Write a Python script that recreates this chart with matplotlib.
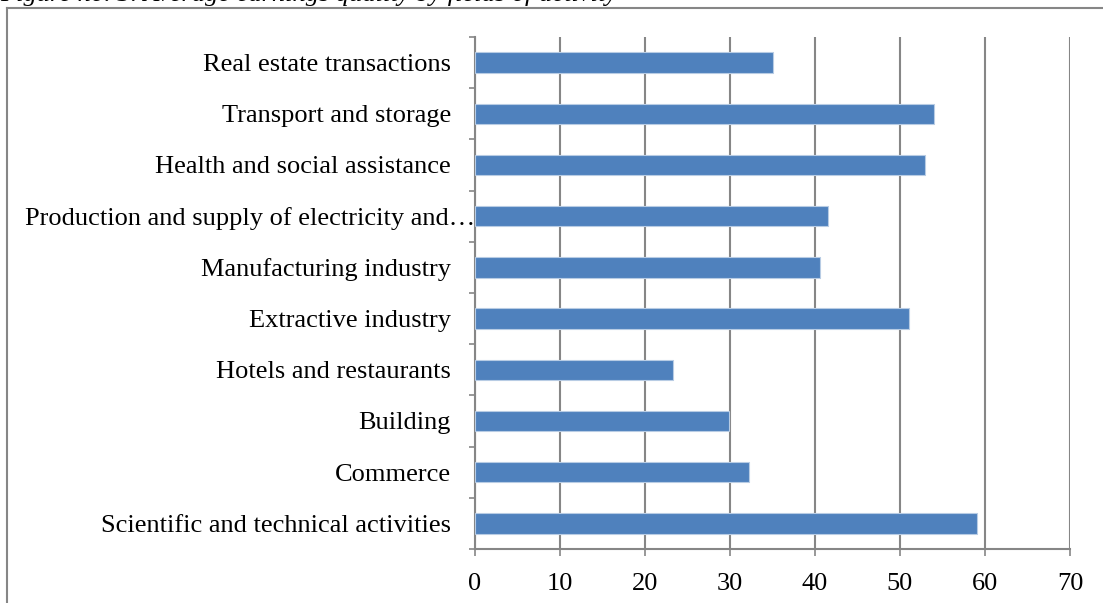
import matplotlib
matplotlib.use("Agg")
import matplotlib.pyplot as plt
import matplotlib.transforms as mtransforms
from matplotlib.lines import Line2D
import numpy as np

# ---------------------------------
# DATA (bottom to top, as drawn)
# ---------------------------------
categories = [
    "Scientific and technical activities",
    "Commerce",
    "Building",
    "Hotels and restaurants",
    "Extractive industry",
    "Manufacturing industry",
    "Production and supply of electricity and\u2026",
    "Health and social assistance",
    "Transport and storage",
    "Real estate transactions",
]
values = [59.1, 32.2, 29.9, 23.3, 51.1, 40.6, 41.5, 52.9, 54.0, 35.0]
x_ticks = [0, 10, 20, 30, 40, 50, 60, 70]
caption = "Figure no. 3. Average earnings quality by fields of activity"

BAR = "#4F81BD"
GREY = "#868686"

plt.rcParams["font.family"] = ["Liberation Serif", "DejaVu Serif"]

fig = plt.figure(figsize=(11.03, 6.03), dpi=100)
W, H = 1103, 603
ax = fig.add_axes([475 / W, 1 - 549 / H, (1070 - 475) / W, (549 - 37) / H])

y = np.arange(len(categories))
ax.barh(y, values, height=0.4, color=BAR, edgecolor="#b8cce4", linewidth=0.8, zorder=3)

ax.set_xlim(0, 70)
ax.set_ylim(-0.5, len(categories) - 0.5)
ax.set_xticks(x_ticks)
ax.set_xticklabels([str(t) for t in x_ticks], fontsize=19)
ax.tick_params(axis="x", length=5, width=1.2, color=GREY, pad=12)

# category boundaries get the tick marks, labels sit in the middle
ax.set_yticks(np.arange(-0.5, len(categories), 1.0))
ax.set_yticklabels([])
ax.tick_params(axis="y", length=4, width=1.2, color=GREY)

ax.grid(axis="x", color=GREY, linewidth=1.5, zorder=0)
for side in ["top", "right"]:
    ax.spines[side].set_visible(False)
for side in ["left", "bottom"]:
    ax.spines[side].set_color(GREY)
    ax.spines[side].set_linewidth(1.5)

trans = mtransforms.blended_transform_factory(ax.transAxes, ax.transData)
for yi, name in zip(y, categories):
    # the truncated label runs right up to the axis, like in the original
    xpos = 0.0 if name.endswith("\u2026") else -24 / 595
    ax.text(xpos, yi, name, transform=trans, ha="right", va="center_baseline", fontsize=19)

# outer chart frame (only top and left edges are visible)
fig.add_artist(Line2D([7 / W, 1.0], [1 - 8 / H, 1 - 8 / H], color=GREY, linewidth=1.5))
fig.add_artist(Line2D([7 / W, 7 / W], [1 - 8 / H, 0.0], color=GREY, linewidth=1.5))

# caption above, mostly cut off by the top edge (as in the source page)
fig.text(0.0, 1 - 0.5 / H, caption, fontsize=19, style="italic", ha="left", va="baseline")

fig.savefig("out.png", dpi=100)
